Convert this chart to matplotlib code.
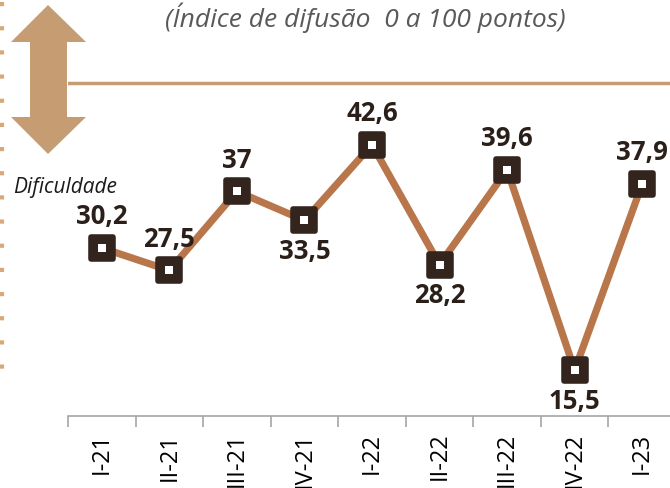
import matplotlib
matplotlib.use("Agg")
import matplotlib.pyplot as plt
from matplotlib.patches import Polygon
from matplotlib.lines import Line2D
from matplotlib.markers import MarkerStyle

# data
quarters = ["I-21", "II-21", "III-21", "IV-21", "I-22", "II-22", "III-22", "IV-22", "I-23"]
values = [30.2, 27.5, 37.0, 33.5, 42.6, 28.2, 39.6, 15.5, 37.9]
labels = ["30,2", "27,5", "37", "33,5", "42,6", "28,2", "39,6", "15,5", "37,9"]
label_side = [1, 1, 1, -1, 1, -1, 1, -1, 1]
ref_level = 50

LINE = "#B8764A"
MARK = "#33241E"
TAN = "#C69C72"

plt.rcParams["font.family"] = ["Open Sans", "DejaVu Sans"]

W, H = 670, 488
fig = plt.figure(figsize=(W / 100, H / 100), dpi=100)
ax = fig.add_axes([68 / W, (H - 416) / H, 608 / W, 416 / H])
ax.set_xlim(-0.5, len(quarters) - 0.5)
ax.set_ylim(10, 60)

x = list(range(len(quarters)))
ax.axhline(ref_level, color=TAN, lw=2.5, zorder=1)
ax.plot(x, values, color=LINE, lw=5.2, zorder=2, solid_capstyle="round")
ax.plot(x, values, ls="none", marker=MarkerStyle("s", joinstyle="round"), ms=15.5,
        mfc=MARK, mec=MARK, mew=4, zorder=3, clip_on=False)
ax.plot(x, values, ls="none", marker="s", ms=6, mfc="white", mec="white", mew=0,
        zorder=4, clip_on=False)

for xi, v, lab, side in zip(x, values, labels, label_side):
    ax.annotate(lab, (xi, v), xytext=(0, 22.5 * side), textcoords="offset points",
                ha="center", va="center", fontsize=18.5, fontweight="bold", color="#2B1F1A",
                zorder=5)

# axes styling
for s in ["top", "right", "left"]:
    ax.spines[s].set_visible(False)
ax.spines["bottom"].set_color("#A6A6A6")
ax.spines["bottom"].set_linewidth(1.2)
ax.set_yticks([])
ax.set_xticks([i - 0.5 for i in range(len(quarters) + 1)])
ax.set_xticklabels([])
ax.tick_params(axis="x", which="major", length=8, color="#A6A6A6", width=1.2)
ax.set_xticks(x, minor=True)
ax.set_xticklabels(quarters, minor=True, rotation=90, fontsize=17, color="black")
ax.tick_params(axis="x", which="minor", length=0, pad=12)

# double arrow on the left
def fx(px):
    return px / W

def fy(py):
    return 1 - py / H

arrow_pts = [(48, 5), (86, 42), (67, 42), (67, 117), (86, 117), (48, 154),
             (11, 117), (30, 117), (30, 42), (11, 42)]
fig.patches.append(Polygon([(fx(a), fy(b)) for a, b in arrow_pts], closed=True,
                           transform=fig.transFigure, facecolor=TAN, edgecolor="none"))

# dashed border on the left edge
fig.lines.append(Line2D([fx(2), fx(2)], [fy(2), fy(384)], transform=fig.transFigure,
                        color="#D9A877", lw=3, dashes=(1, 4.8)))

fig.text(fx(365), fy(18), "(Índice de difusão  0 a 100 pontos)", ha="center", va="center",
         fontsize=19, style="italic", color="#595959")
fig.text(fx(13), fy(187), "Dificuldade", ha="left", va="center", fontsize=15,
         style="italic", color="#1A1A1A")

fig.savefig("out.png", dpi=100)
